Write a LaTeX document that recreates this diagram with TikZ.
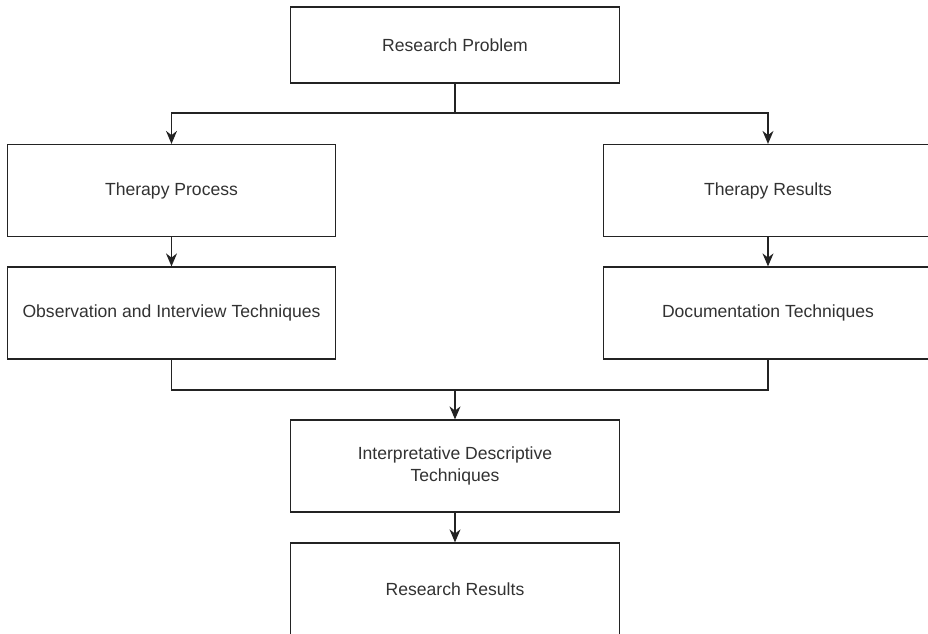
\documentclass[tikz,border=0pt]{standalone}
\usepackage{fontspec}
\setmainfont{Liberation Sans}
\usepackage{xcolor}
\usepackage{tikz}
\usetikzlibrary{arrows.meta, positioning, calc}
\definecolor{mydark}{RGB}{35,35,35}
\definecolor{mytext}{RGB}{50,50,50}
\tikzset{
  flowbox/.style={rectangle, draw=mydark, fill=white, line width=0.7pt,
    minimum width=6.57cm, minimum height=1.84cm, align=center,
    font=\fontsize{10}{12.5}\selectfont, text=mytext},
  topbox/.style={flowbox, minimum height=1.52cm},
  arrow/.style={-{Stealth[length=2.6mm, width=2.2mm]}, line width=0.7pt, color=mydark},
  line/.style={line width=0.7pt, color=mydark}
}
\begin{document}
\begin{tikzpicture}
  % Page frame (right and bottom boxes run off the edge)
  \clip (0,0) rectangle (18.56,-12.66);
  \fill[white] (0,0) rectangle (18.56,-12.66);

  % Top node
  \node[topbox] (problem) at (9.10,-0.90) {Research Problem};

  % Two branches
  \node[flowbox] (process) at (3.43,-3.81) {Therapy Process};
  \node[flowbox] (observe) at (3.43,-6.26) {Observation and Interview Techniques};
  \node[flowbox] (tresults) at (15.36,-3.81) {Therapy Results};
  \node[flowbox] (docu) at (15.36,-6.26) {Documentation Techniques};

  % Merged path
  \node[flowbox] (interp) at (9.10,-9.32) {Interpretative Descriptive\\ Techniques};
  \node[flowbox] (rresults) at (9.10,-11.78) {Research Results};

  \coordinate (split) at (9.10,-2.26);
  \coordinate (merge) at (9.10,-7.80);

  % Connectors
  \draw[line] (problem.south) -- (split);
  \draw[arrow] (split) -| (process.north);
  \draw[arrow] (split) -| (tresults.north);
  \draw[arrow] (process) -- (observe);
  \draw[arrow] (tresults) -- (docu);
  \draw[line] (observe.south) |- (merge);
  \draw[line] (docu.south) |- (merge);
  \draw[arrow] (merge) -- (interp.north);
  \draw[arrow] (interp) -- (rresults);
\end{tikzpicture}
\end{document}
